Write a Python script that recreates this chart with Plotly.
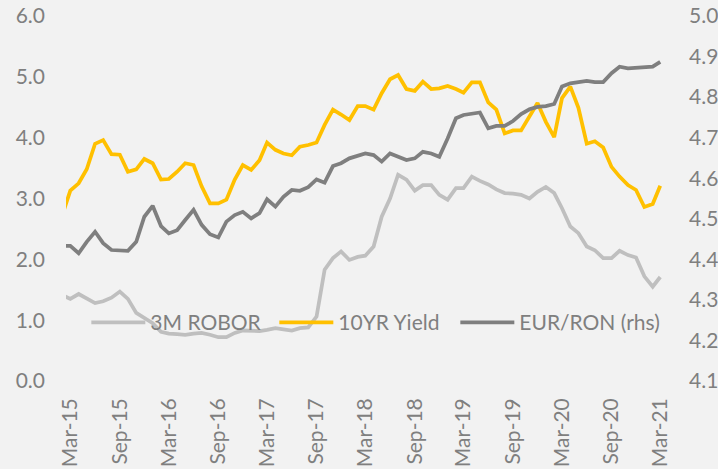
import plotly.graph_objects as go
import pandas as pd

# Monthly observations, Feb-15 .. Mar-21
months = pd.date_range("2015-02-01", "2021-03-01", freq="MS")

robor_3m = [1.41, 1.35, 1.43, 1.36, 1.28, 1.31, 1.37, 1.47, 1.35, 1.12,
            1.03, 0.95, 0.81, 0.78, 0.77, 0.76, 0.78, 0.79, 0.76, 0.72,
            0.72, 0.79, 0.83, 0.82, 0.82, 0.84, 0.87, 0.85, 0.83, 0.87,
            0.88, 1.06, 1.83, 2.02, 2.13, 1.99, 2.04, 2.06, 2.21, 2.70,
            3.00, 3.39, 3.31, 3.13, 3.22, 3.22, 3.06, 2.98, 3.17, 3.17,
            3.36, 3.29, 3.23, 3.15, 3.09, 3.08, 3.06, 3.00, 3.11, 3.19,
            3.09, 2.84, 2.54, 2.43, 2.21, 2.15, 2.02, 2.02, 2.14, 2.07,
            2.03, 1.72, 1.55, 1.71]

yield_10y = [2.75, 3.13, 3.25, 3.48, 3.90, 3.96, 3.73, 3.72, 3.44, 3.48,
             3.65, 3.58, 3.31, 3.32, 3.44, 3.58, 3.55, 3.20, 2.92, 2.92,
             2.98, 3.31, 3.55, 3.47, 3.63, 3.92, 3.80, 3.74, 3.71, 3.85,
             3.88, 3.92, 4.21, 4.46, 4.38, 4.29, 4.52, 4.52, 4.46, 4.73,
             4.96, 5.03, 4.80, 4.77, 4.92, 4.80, 4.81, 4.85, 4.80, 4.74,
             4.91, 4.91, 4.58, 4.46, 4.07, 4.12, 4.12, 4.35, 4.57, 4.26,
             4.01, 4.65, 4.84, 4.49, 3.90, 3.94, 3.84, 3.52, 3.36, 3.22,
             3.14, 2.86, 2.91, 3.21]

eur_ron = [4.433, 4.433, 4.415, 4.443, 4.468, 4.440, 4.423, 4.423, 4.421, 4.443,
           4.505, 4.532, 4.482, 4.464, 4.472, 4.497, 4.522, 4.485, 4.462, 4.454,
           4.493, 4.509, 4.517, 4.501, 4.514, 4.548, 4.530, 4.554, 4.571, 4.569,
           4.578, 4.597, 4.589, 4.630, 4.637, 4.649, 4.655, 4.661, 4.657, 4.641,
           4.661, 4.652, 4.645, 4.649, 4.665, 4.661, 4.653, 4.698, 4.748, 4.756,
           4.760, 4.762, 4.723, 4.729, 4.729, 4.741, 4.758, 4.770, 4.776, 4.778,
           4.783, 4.826, 4.834, 4.836, 4.840, 4.837, 4.837, 4.859, 4.875, 4.871,
           4.872, 4.873, 4.875, 4.887]

series_names = ["3M ROBOR", "10YR Yield", "EUR/RON (rhs)"]
series_colors = ["#BFBFBF", "#FFC000", "#7F7F7F"]

TEXT = "#7F7F7F"
BG = "#F2F2F2"
FONT = "Lato"

fig = go.Figure()
fig.add_trace(go.Scatter(x=months, y=robor_3m, name=series_names[0], mode="lines",
                         line=dict(color=series_colors[0], width=3.75), legendwidth=119))
fig.add_trace(go.Scatter(x=months, y=yield_10y, name=series_names[1], mode="lines",
                         line=dict(color=series_colors[1], width=3.75), legendwidth=112))
fig.add_trace(go.Scatter(x=months, y=eur_ron, name=series_names[2], mode="lines",
                         line=dict(color=series_colors[2], width=3.75), yaxis="y2"))

fig.update_layout(
    width=718, height=469,
    margin=dict(l=66, r=54, t=16, b=88, pad=0, autoexpand=False),
    paper_bgcolor=BG, plot_bgcolor=BG,
    font=dict(family=FONT, size=21, color=TEXT),
    xaxis=dict(type="date", range=["2015-02-13", "2021-03-15"],
               tick0="2015-03-01", dtick="M6", tickformat="%b-%y",
               tickangle=-90, showgrid=False, zeroline=False, showline=False,
               ticks="", ticklabelstandoff=12, automargin=False),
    yaxis=dict(range=[0, 6], dtick=1, tick0=0, tickformat=".1f",
               showgrid=False, zeroline=False, showline=False, ticks="",
               ticklabelstandoff=20, automargin=False),
    yaxis2=dict(range=[4.1, 5.0], dtick=0.1, tick0=4.1, tickformat=".1f",
                overlaying="y", side="right", showgrid=False, zeroline=False,
                showline=False, ticks="", ticklabelstandoff=24, automargin=False),
    legend=dict(orientation="h", x=0.034, y=0.16, xanchor="left", yanchor="middle",
                bgcolor="rgba(0,0,0,0)", itemwidth=54,
                font=dict(family=FONT, size=21, color=TEXT)),
    showlegend=True,
)

fig.write_html("out.html", config={"displayModeBar": False},
               post_script="document.body.style.margin='0';")
